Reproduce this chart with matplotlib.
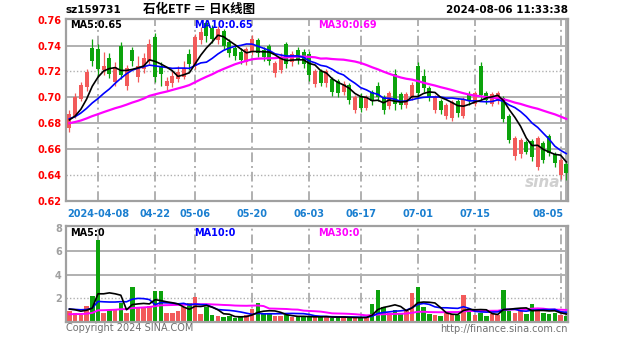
import matplotlib
matplotlib.use("Agg")
import matplotlib.pyplot as plt
import numpy as np
import pandas as pd

# ---------------- data ----------------
code = "sz159731"
title = "石化ETF ＝ 日K线图"
stamp = "2024-08-06 11:33:38"

# closes before the visible window (only used for the moving averages)
pre_close = [0.672, 0.675, 0.671, 0.674, 0.677, 0.676, 0.673, 0.678, 0.680, 0.677,
             0.679, 0.682, 0.680, 0.678, 0.681, 0.684, 0.682, 0.679, 0.683, 0.686,
             0.684, 0.681, 0.683, 0.686, 0.688, 0.685, 0.683, 0.680, 0.678]
pre_vol = [0.4, 0.5, 0.4, 0.3, 0.4, 0.5, 0.4, 0.4, 0.3, 0.4,
           0.5, 0.4, 0.4, 0.3, 0.4, 0.5, 0.4, 0.4, 0.5, 1.0,
           1.1, 0.9, 1.2, 1.0, 1.3, 1.1, 1.2, 1.0, 1.3]

opens = [0.676, 0.686, 0.699, 0.708, 0.738, 0.737, 0.721, 0.730, 0.712, 0.739,
         0.709, 0.736, 0.716, 0.722, 0.728, 0.746, 0.724, 0.709, 0.711, 0.714,
         0.716, 0.733, 0.724, 0.744, 0.757, 0.753, 0.744, 0.751, 0.742, 0.738,
         0.735, 0.727, 0.735, 0.744, 0.736, 0.739, 0.719, 0.721, 0.741, 0.727,
         0.736, 0.735, 0.733, 0.710, 0.720, 0.711, 0.714, 0.712, 0.704, 0.709,
         0.690, 0.700, 0.692, 0.704, 0.708, 0.700, 0.693, 0.718, 0.702, 0.694,
         0.700, 0.724, 0.716, 0.707, 0.690, 0.697, 0.686, 0.684, 0.697, 0.686,
         0.702, 0.695, 0.724, 0.703, 0.695, 0.697, 0.699, 0.685, 0.655, 0.656,
         0.665, 0.666, 0.646, 0.664, 0.670, 0.656, 0.640, 0.648]
closes = [0.687, 0.700, 0.709, 0.719, 0.728, 0.722, 0.724, 0.718, 0.723, 0.717,
          0.722, 0.728, 0.724, 0.730, 0.741, 0.716, 0.718, 0.712, 0.716, 0.719,
          0.722, 0.726, 0.746, 0.750, 0.747, 0.745, 0.752, 0.740, 0.734, 0.732,
          0.729, 0.737, 0.745, 0.734, 0.731, 0.728, 0.726, 0.731, 0.726, 0.733,
          0.729, 0.726, 0.717, 0.720, 0.711, 0.720, 0.704, 0.703, 0.710, 0.698,
          0.700, 0.692, 0.700, 0.697, 0.700, 0.690, 0.703, 0.695, 0.694, 0.702,
          0.709, 0.703, 0.707, 0.700, 0.700, 0.690, 0.694, 0.696, 0.688, 0.698,
          0.697, 0.703, 0.702, 0.698, 0.702, 0.703, 0.683, 0.667, 0.668, 0.667,
          0.658, 0.654, 0.668, 0.652, 0.657, 0.649, 0.651, 0.642]
highs = [0.690, 0.703, 0.712, 0.722, 0.745, 0.741, 0.735, 0.734, 0.727, 0.743,
         0.725, 0.739, 0.732, 0.734, 0.745, 0.750, 0.727, 0.716, 0.720, 0.724,
         0.728, 0.737, 0.749, 0.754, 0.760, 0.756, 0.755, 0.753, 0.745, 0.741,
         0.738, 0.739, 0.748, 0.746, 0.739, 0.741, 0.728, 0.734, 0.743, 0.736,
         0.739, 0.737, 0.736, 0.722, 0.722, 0.722, 0.716, 0.714, 0.713, 0.711,
         0.702, 0.703, 0.702, 0.706, 0.712, 0.702, 0.705, 0.722, 0.704, 0.704,
         0.712, 0.727, 0.722, 0.709, 0.702, 0.699, 0.696, 0.698, 0.699, 0.700,
         0.705, 0.705, 0.727, 0.705, 0.704, 0.705, 0.701, 0.687, 0.670, 0.669,
         0.667, 0.668, 0.670, 0.666, 0.672, 0.658, 0.653, 0.650]
lows = [0.673, 0.684, 0.697, 0.705, 0.724, 0.716, 0.717, 0.715, 0.709, 0.714,
        0.706, 0.724, 0.712, 0.719, 0.726, 0.712, 0.709, 0.706, 0.708, 0.712,
        0.714, 0.721, 0.722, 0.741, 0.743, 0.742, 0.741, 0.737, 0.731, 0.729,
        0.726, 0.725, 0.733, 0.731, 0.728, 0.725, 0.716, 0.719, 0.723, 0.724,
        0.726, 0.723, 0.713, 0.708, 0.709, 0.708, 0.701, 0.700, 0.702, 0.695,
        0.688, 0.689, 0.690, 0.694, 0.697, 0.687, 0.691, 0.690, 0.691, 0.692,
        0.698, 0.700, 0.704, 0.697, 0.688, 0.687, 0.683, 0.682, 0.685, 0.684,
        0.694, 0.693, 0.699, 0.695, 0.693, 0.695, 0.681, 0.665, 0.652, 0.653,
        0.656, 0.651, 0.644, 0.649, 0.655, 0.646, 0.637, 0.636]
volumes = [0.9, 0.8, 0.6, 1.4, 2.2, 7.0, 0.8, 1.0, 1.0, 1.6,
           0.8, 3.0, 1.3, 1.2, 1.4, 2.6, 2.6, 0.8, 0.8, 0.9,
           1.3, 1.6, 2.1, 0.7, 1.3, 0.6, 0.5, 0.4, 0.5, 0.3,
           0.5, 0.6, 1.1, 1.6, 0.8, 0.7, 0.5, 0.5, 0.6, 0.4,
           0.4, 0.5, 0.4, 0.5, 0.4, 0.5, 0.3, 0.4, 0.5, 0.3,
           0.4, 0.3, 0.4, 1.5, 2.7, 1.3, 0.8, 1.0, 0.8, 0.9,
           2.5, 3.0, 1.3, 0.7, 0.6, 0.5, 0.8, 0.7, 0.6, 2.3,
           1.0, 0.6, 0.8, 0.5, 0.7, 0.6, 2.7, 0.9, 0.8, 0.9,
           0.7, 1.5, 1.0, 0.8, 0.7, 0.8, 0.6, 0.5]

tick_pos = [5, 15, 22, 32, 42, 51, 61, 71, 86]
tick_labels = ["2024-04-08", "04-22", "05-06", "05-20", "06-03",
               "06-17", "07-01", "07-15", "08-05"]
price_ticks = [0.62, 0.64, 0.66, 0.68, 0.70, 0.72, 0.74, 0.76]
vol_ticks = [2, 4, 6, 8]
price_legend = ["MA5:0.65", "MA10:0.65", "MA30:0.69"]
vol_legend = ["MA5:0", "MA10:0", "MA30:0"]

# ---------------- moving averages ----------------
n = len(closes)
all_c = pd.Series(pre_close + closes)
all_v = pd.Series(pre_vol + volumes)
ma5 = all_c.rolling(5).mean().values[-n:]
ma10 = all_c.rolling(10).mean().values[-n:]
ma30 = all_c.rolling(30).mean().values[-n:]
vma5 = all_v.rolling(5).mean().values[-n:]
vma10 = all_v.rolling(10).mean().values[-n:]
vma30 = all_v.rolling(30).mean().values[-n:]

RED = "#f25a5a"
GREEN = "#0ca30c"
GRID = "#b0b0b0"
MA_COLORS = ["black", "#0000ff", "#ff00ff"]
LEG_X = [70, 194, 318]
X = np.arange(n)
o = np.array(opens); c = np.array(closes)
up = c >= o
cols = np.where(up, RED, GREEN)

plt.rcParams['font.family'] = ['DejaVu Sans']
fig = plt.figure(figsize=(6.27, 3.42), dpi=100)
fig.patch.set_facecolor("white")

W, H = 627, 342
def frac(l, t, r, b):
    return [l / W, 1 - b / H, (r - l) / W, (b - t) / H]

ax = fig.add_axes(frac(66, 19, 568, 201))
axv = fig.add_axes(frac(66, 226, 568, 322))

XMIN, XMAX = -0.6, 87.3
for a in (ax, axv):
    a.set_xlim(XMIN, XMAX)
    for s in a.spines.values():
        s.set_color("#a0a0a0")
        s.set_linewidth(1.6)
    a.set_xticks([])
    for p in tick_pos:
        a.axvline(p, color=GRID, lw=1.4, ls=(0, (5, 2, 1, 2)), zorder=0)
    a.axvline(XMAX - 0.4, color="#a0a0a0", lw=1.2, zorder=0)

# ---- price panel ----
ax.set_ylim(0.62, 0.7605)
for lv in [0.74, 0.70, 0.68, 0.66]:
    ax.axhline(lv, color=GRID, lw=1.4, zorder=0)
for lv in [0.72, 0.64]:
    ax.axhline(lv, color=GRID, lw=1.0, ls=(0, (1, 1.5)), zorder=0)
ax.set_yticks(price_ticks)
ax.set_yticklabels([f"{v:.2f}" for v in price_ticks], color="red",
                   fontsize=7, fontweight="bold")
ax.tick_params(axis="y", length=0, pad=3)

ax.vlines(X, lows, highs, colors=cols, lw=0.9, zorder=2)
ax.bar(X, np.abs(c - o) + 0.0004, bottom=np.minimum(o, c), width=0.7,
       color=cols, zorder=3)
ax.plot(X, ma30, color=MA_COLORS[2], lw=1.6, zorder=4)
ax.plot(X, ma10, color=MA_COLORS[1], lw=1.2, zorder=5)
ax.plot(X, ma5, color=MA_COLORS[0], lw=1.2, zorder=6)

for lab, col, lx in zip(price_legend, MA_COLORS, LEG_X):
    fig.text(lx / W, 1 - 25 / H, lab, fontsize=7, fontweight="bold",
             color=col, va="center")
ax.text(0.985, 0.1, "sina", transform=ax.transAxes, ha="right", va="center",
        fontsize=11, fontweight="bold", style="italic", color="#d0d0d0", zorder=1)

for p, lab in zip(tick_pos, tick_labels):
    last = p == tick_pos[-1]
    ax.text(p + 0.5 if last else p, 0.6135, lab, ha="right" if last else "center",
            va="top", fontsize=7, fontweight="bold", color="#1a7fd0",
            clip_on=False)

# ---- volume panel ----
axv.set_ylim(0, 8.17)
for lv in [4, 6]:
    axv.axhline(lv, color=GRID, lw=1.4, zorder=0)
axv.axhline(2, color=GRID, lw=1.0, ls=(0, (1, 1.5)), zorder=0)
axv.set_yticks(vol_ticks)
axv.set_yticklabels([str(v) for v in vol_ticks], color="#a0a0a0",
                    fontsize=7, fontweight="bold")
axv.tick_params(axis="y", length=0, pad=3)
axv.bar(X, volumes, width=0.8, color=cols, zorder=2)
axv.plot(X, vma30, color=MA_COLORS[2], lw=1.4, zorder=4)
axv.plot(X, vma10, color=MA_COLORS[1], lw=1.2, zorder=5)
axv.plot(X, vma5, color=MA_COLORS[0], lw=1.2, zorder=6)

for lab, col, lx in zip(vol_legend, MA_COLORS, LEG_X):
    fig.text(lx / W, 1 - 233 / H, lab, fontsize=7, fontweight="bold",
             color=col, va="center")

# ---- header / footer ----
fig.text(66 / W, 1 - 10 / H, code, fontsize=7.5, fontweight="bold", va="center")
fig.text(199 / W, 1 - 10 / H, title, fontsize=9, fontweight="bold", va="center",
         ha="center", family=["Noto Sans CJK SC", "DejaVu Sans"])
fig.text(568 / W, 1 - 10 / H, stamp, fontsize=7.5, fontweight="bold",
         va="center", ha="right")
fig.text(66 / W, 1 - 328 / H, "Copyright 2024 SINA.COM", fontsize=7,
         color="#707070", va="center")
fig.text(568 / W, 1 - 329 / H, "http://finance.sina.com.cn", fontsize=7,
         color="#707070", va="center", ha="right")

fig.savefig("out.png", dpi=100, facecolor="white")
